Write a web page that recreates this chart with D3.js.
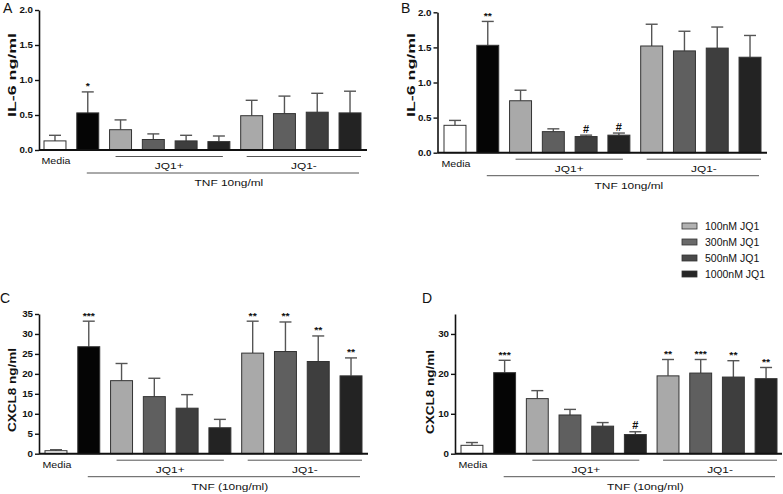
<!DOCTYPE html>
<html><head><meta charset="utf-8">
<script src="https://cdn.jsdelivr.net/npm/d3@7"></script>
<style>body{margin:0;background:#fff}svg{display:block;font-family:Arial,"Liberation Sans",Helvetica,sans-serif}</style>
</head><body>
<script>
// ---- data ----
const categories = ["Media","TNF","100nM JQ1+","300nM JQ1+","500nM JQ1+","1000nM JQ1+","100nM JQ1-","300nM JQ1-","500nM JQ1-","1000nM JQ1-"];
const legendLabels = ["100nM JQ1","300nM JQ1","500nM JQ1","1000nM JQ1"];
const il6A = [0.13,0.53,0.29,0.15,0.13,0.12,0.49,0.52,0.54,0.53];
const il6A_sem = [0.08,0.30,0.14,0.08,0.08,0.08,0.22,0.25,0.27,0.31];
const il6A_sig = ["","*","","","","","","","",""];
const il6B = [0.39,1.53,0.74,0.30,0.23,0.25,1.52,1.45,1.49,1.36];
const il6B_sem = [0.07,0.34,0.15,0.04,0.02,0.03,0.31,0.28,0.30,0.31];
const il6B_sig = ["","**","","","#","#","","","",""];
const cxcl8C = [0.75,26.8,18.3,14.3,11.4,6.5,25.2,25.6,23.1,19.5];
const cxcl8C_sem = [0.25,6.4,4.3,4.6,3.4,2.1,8.0,7.4,6.4,4.5];
const cxcl8C_sig = ["","***","","","","","**","**","**","**"];
const cxcl8D = [2.1,20.3,13.8,9.7,6.9,4.8,19.5,20.2,19.2,18.8];
const cxcl8D_sem = [0.7,3.1,2.0,1.4,0.9,0.7,4.1,3.4,4.1,2.8];
const cxcl8D_sig = ["","***","","","","#","**","***","**","**"];
const ticksIL6 = [0,0.5,1.0,1.5,2.0];
const ticksC = [0,5,10,15,20,25,30,35];
const ticksD = [0,10,20,30];

// ---- styles ----
const barFill = ["#ffffff","#050505","#a9a9a9","#5f5f5f","#3e3e3e","#232323","#a9a9a9","#5f5f5f","#3e3e3e","#232323"];
const legendFill = ["#b2b2b2","#6a6a6a","#4a4a4a","#262626"];

const svg = d3.select("body").append("svg").attr("width",783).attr("height",494);

function stext(g, x, y, str, size, o={}){
  const sx = o.sx||1.3;
  const t = g.append("text")
    .attr("transform", `translate(${x},${y})` + (o.rot?` rotate(${o.rot})`:"") + ` scale(${sx},1)`)
    .attr("font-size", size)
    .attr("font-weight", o.bold?"bold":"normal")
    .attr("text-anchor", o.anchor||"middle")
    .attr("fill", o.fill||"#111")
    .text(str);
  if(o.len){
    const L = t.node().getComputedTextLength();
    t.attr("transform", `translate(${x},${y})` + (o.rot?` rotate(${o.rot})`:"") + ` scale(${o.len/L},1)`);
  }
  return t;
}

function panel(cfg){
  const g = svg.append("g");
  const x = d3.scaleBand().domain(categories).range([cfg.x0,cfg.x1]).paddingInner(0.33).paddingOuter(0);
  const y = d3.scaleLinear().domain([0,cfg.ymax]).range([cfg.yb,cfg.yt]);
  const bw = x.bandwidth();
  // letter
  g.append("text").attr("x",cfg.lx).attr("y",cfg.ly).attr("font-size",14).attr("fill","#111").text(cfg.letter);
  // y title
  stext(g, cfg.tx, cfg.ty, cfg.ytitle, 10.5, {rot:-90, bold:true, len:84});
  // error bars
  const eg = g.append("g");
  categories.forEach((c,i)=>{
    const cx = x(c)+bw/2, top = y(cfg.vals[i]+cfg.sem[i]), base = y(cfg.vals[i]);
    eg.append("line").attr("x1",cx).attr("x2",cx).attr("y1",base).attr("y2",top).attr("stroke","#555").attr("stroke-width",1.4);
    eg.append("line").attr("x1",cx-6).attr("x2",cx+6).attr("y1",top).attr("y2",top).attr("stroke","#555").attr("stroke-width",1.4);
    if(cfg.sig[i]) stext(g, cx, top-2.5, cfg.sig[i], cfg.sig[i]==="#"?10:9.5, {bold:true, sx:1.1});
  });
  // bars
  g.selectAll("rect.bar").data(categories).join("rect")
    .attr("x",c=>x(c)).attr("width",bw)
    .attr("y",(c,i)=>y(cfg.vals[i])).attr("height",(c,i)=>cfg.yb-y(cfg.vals[i]))
    .attr("fill",(c,i)=>barFill[i]).attr("stroke","#333").attr("stroke-width",1);
  // y axis
  const ax = g.append("g").attr("transform",`translate(${cfg.ax},0)`)
    .call(d3.axisLeft(y).tickValues(cfg.ticks).tickSize(4).tickSizeOuter(0).tickPadding(2).tickFormat(cfg.fmt));
  ax.select(".domain").attr("stroke","#111").attr("stroke-width",1.6);
  ax.selectAll(".tick line").attr("stroke","#111").attr("stroke-width",1.4);
  ax.selectAll(".tick text").remove();
  cfg.ticks.forEach(v=>stext(g, cfg.ax-6, y(v)+3.2, cfg.fmt(v), 8.5, {bold:true, anchor:"end", sx:1.15}));
  // x baseline
  g.append("line").attr("x1",cfg.ax).attr("x2",cfg.xend).attr("y1",cfg.yb).attr("y2",cfg.yb).attr("stroke","#111").attr("stroke-width",2);
  // group lines
  const lp1 = x(categories[2])+6, lp2 = x(categories[5])+bw-7;
  const lm1 = x(categories[6])+6, lm2 = x(categories[9])+bw;
  const lt1 = x(categories[1])+10, lt2 = x(categories[9])+bw-2;
  [[lp1,lp2,cfg.yb+6.5],[lm1,lm2,cfg.yb+6.5],[lt1,lt2,cfg.yb+23]].forEach(([a,b,yy])=>{
    g.append("line").attr("x1",a).attr("x2",b).attr("y1",yy).attr("y2",yy).attr("stroke","#555").attr("stroke-width",1);
  });
  stext(g, x(categories[0])+bw/2+1, cfg.yb+14, "Media", 8.5, {sx:1.25});
  stext(g, (lp1+lp2)/2, cfg.yb+19, "JQ1+", 8.5, {sx:1.4});
  stext(g, (lm1+lm2)/2, cfg.yb+19, "JQ1-", 8.5, {sx:1.4});
  stext(g, (lt1+lt2)/2+6, cfg.yb+36, cfg.tnf, 8.5, {sx:1.4});
}

const f1 = d3.format(".1f"), f0 = d3.format("d");
panel({letter:"A", lx:3, ly:13, tx:16, ty:75, ax:39, x0:44, x1:361, xend:367, yb:150, yt:10, ymax:2, ticks:ticksIL6, fmt:f1,
  vals:il6A, sem:il6A_sem, sig:il6A_sig, ytitle:"IL-6 ng/ml", tnf:"TNF 10ng/ml"});
panel({letter:"B", lx:401, ly:13, tx:415, ty:75, ax:437.5, x0:444, x1:761, xend:767, yb:152.7, yt:12.3, ymax:2, ticks:ticksIL6, fmt:f1,
  vals:il6B, sem:il6B_sem, sig:il6B_sig, ytitle:"IL-6 ng/ml", tnf:"TNF 10ng/ml"});
panel({letter:"C", lx:0, ly:303, tx:16, ty:390, ax:39, x0:45, x1:362, xend:368, yb:453.7, yt:314, ymax:35, ticks:ticksC, fmt:f0,
  vals:cxcl8C, sem:cxcl8C_sem, sig:cxcl8C_sig, ytitle:"CXCL8 ng/ml", tnf:"TNF (10ng/ml)"});
panel({letter:"D", lx:422, ly:303, tx:434, ty:392, ax:455, x0:461, x1:777, xend:782, yb:453.7, yt:314, ymax:35, ticks:ticksD, fmt:f0,
  vals:cxcl8D, sem:cxcl8D_sem, sig:cxcl8D_sig, ytitle:"CXCL8 ng/ml", tnf:"TNF (10ng/ml)"});

// legend
const lg = svg.append("g");
legendLabels.forEach((l,i)=>{
  const yy = 223 + i*16;
  lg.append("rect").attr("x",682).attr("y",yy).attr("width",15).attr("height",6).attr("fill",legendFill[i]).attr("stroke","#333").attr("stroke-width",0.8);
  stext(lg, 705, yy+7, l, 10.5, {anchor:"start", sx:1.0});
});
</script>
</body></html>
